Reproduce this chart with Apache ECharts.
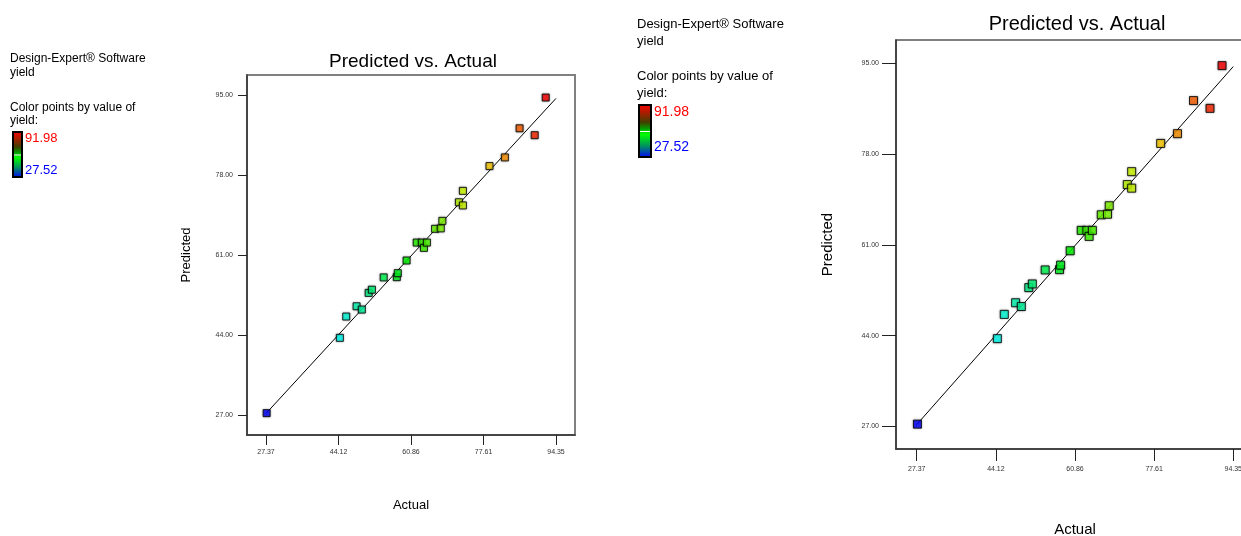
<!DOCTYPE html>
<html>
<head>
<meta charset="utf-8">
<style>
  html, body { margin: 0; padding: 0; background: #ffffff; }
  #chart { width: 1241px; height: 536px; }
</style>
<script src="https://cdn.jsdelivr.net/npm/echarts@6/dist/echarts.min.js"></script>
</head>
<body>
<div id="chart"></div>
<script>
// Run data: actual yield and model-predicted yield
const actual = [27.52, 44.43, 45.90, 48.29, 49.50, 51.08, 51.83, 54.55, 57.58, 57.81, 59.84, 62.18, 63.37,
                63.85, 64.54, 66.42, 67.74, 68.10, 71.93, 72.85, 72.85, 78.99, 82.55, 85.94, 89.43, 91.98];
const predicted = [27.45, 43.45, 47.98, 50.16, 49.46, 53.00, 53.68, 56.30, 56.36, 57.20, 59.89, 63.70, 63.70,
                   62.57, 63.70, 66.62, 66.72, 68.31, 72.27, 71.60, 74.69, 79.96, 81.80, 87.99, 86.53, 94.53];
const xTicks = [27.37, 44.12, 60.86, 77.61, 94.35];
const yTicks = [27.00, 44.00, 61.00, 78.00, 95.00];
const fitLine = [27.37, 94.35];
const yieldRange = [27.52, 91.98];

const FONT = "'Liberation Sans', Arial, sans-serif";
const NARROW = "'Liberation Sans Narrow', 'Liberation Sans', Arial, sans-serif";

const points = actual.map((a, i) => [a, predicted[i]]);
const linePts = fitLine.map(v => [v, v]);

function xAxisFor(gridIndex, tickLen, margin, nameGap, nameSize) {
  return {
    gridIndex, type: 'value', min: 22.98, max: 98.74,
    name: 'Actual', nameLocation: 'middle', nameGap,
    nameTextStyle: { fontFamily: FONT, fontSize: nameSize, color: '#000' },
    axisLine: { show: true, onZero: false, lineStyle: { color: '#333', width: 1.5 } },
    axisTick: { show: true, customValues: xTicks, length: tickLen, lineStyle: { color: '#222', width: 1 } },
    axisLabel: { customValues: xTicks, formatter: v => v.toFixed(2), margin,
                 fontFamily: NARROW, fontSize: 7, color: '#333' },
    splitLine: { show: false }
  };
}
function yAxisFor(gridIndex, tickLen, margin, nameGap, nameSize) {
  return {
    gridIndex, type: 'value', min: 22.8, max: 99.32,
    name: 'Predicted', nameLocation: 'middle', nameGap, nameRotate: 90,
    nameTextStyle: { fontFamily: FONT, fontSize: nameSize, color: '#000' },
    axisLine: { show: true, onZero: false, lineStyle: { color: '#333', width: 1.5 } },
    axisTick: { show: true, customValues: yTicks, length: tickLen, lineStyle: { color: '#222', width: 1 } },
    axisLabel: { customValues: yTicks, formatter: v => v.toFixed(2), margin,
                 fontFamily: NARROW, fontSize: 7, color: '#333' },
    splitLine: { show: false }
  };
}

// Legend text block with a colour bar for the yield scale
function legendBlock(x, tops, fs, bar) {
  const texts = ['Design-Expert® Software', 'yield', 'Color points by value of', 'yield:'];
  const els = texts.map((t, i) => ({
    type: 'text', left: x, top: tops[i],
    style: { text: t, fontFamily: FONT, fontSize: fs, fill: '#000' }
  }));
  els.push({
    type: 'rect', shape: { x: bar.x, y: bar.y, width: bar.w, height: bar.h },
    style: {
      stroke: '#000', lineWidth: 2,
      fill: new echarts.graphic.LinearGradient(0, 0, 0, 1, [
        { offset: 0, color: '#ff0000' },
        { offset: 0.18, color: '#a02000' },
        { offset: 0.34, color: '#404000' },
        { offset: 0.46, color: '#00a000' },
        { offset: 0.56, color: '#00ff00' },
        { offset: 0.78, color: '#009060' },
        { offset: 1, color: '#0000ff' }
      ])
    }
  });
  els.push({
    type: 'rect', shape: { x: bar.x + 1, y: bar.y + bar.h * 0.5, width: bar.w - 2, height: 1 },
    style: { fill: '#ffffff' }
  });
  els.push({
    type: 'text', left: bar.x + bar.w + 3, top: bar.hiTop,
    style: { text: yieldRange[1].toFixed(2), fontFamily: FONT, fontSize: fs + 1, fill: '#ff0000' }
  });
  els.push({
    type: 'text', left: bar.x + bar.w + 3, top: bar.loTop,
    style: { text: yieldRange[0].toFixed(2), fontFamily: FONT, fontSize: fs + 1, fill: '#0000ff' }
  });
  return els;
}

function scatterSeries(idx, size) {
  return {
    type: 'scatter', xAxisIndex: idx, yAxisIndex: idx, data: points,
    symbol: 'rect', symbolSize: size,
    itemStyle: { borderColor: '#000', borderWidth: 1, shadowColor: 'rgba(0,0,0,0.45)', shadowBlur: 2 },
    z: 3
  };
}
function lineSeries(idx) {
  return {
    type: 'line', xAxisIndex: idx, yAxisIndex: idx, data: linePts,
    symbol: 'none', silent: true,
    lineStyle: { color: '#000', width: 1 }, z: 2
  };
}

const chart = echarts.init(document.getElementById('chart'), null, { renderer: 'canvas' });
chart.setOption({
  backgroundColor: '#ffffff',
  animation: false,
  title: [
    { text: 'Predicted vs. Actual', left: 408, top: 47, textAlign: 'center',
      textStyle: { fontFamily: FONT, fontSize: 19, fontWeight: 'normal', color: '#000' } },
    { text: 'Predicted vs. Actual', left: 1072, top: 9, textAlign: 'center',
      textStyle: { fontFamily: FONT, fontSize: 20, fontWeight: 'normal', color: '#000' } }
  ],
  grid: [
    { left: 247, top: 75, width: 328, height: 360, show: true, borderColor: '#808080', borderWidth: 2,
      outerBoundsMode: 'none', containLabel: false },
    { left: 896, top: 40, width: 358, height: 409, show: true, borderColor: '#555', borderWidth: 1.5,
      outerBoundsMode: 'none', containLabel: false }
  ],
  xAxis: [xAxisFor(0, 10, 14, 64, 13), xAxisFor(1, 12, 17, 73, 15)],
  yAxis: [yAxisFor(0, 9, 14, 54, 13), yAxisFor(1, 14, 17, 61, 15)],
  visualMap: {
    show: false, type: 'continuous', dimension: 0, seriesIndex: [1, 3],
    min: yieldRange[0], max: yieldRange[1],
    inRange: { color: ['#0000ff', '#00ffff', '#00ff00', '#ffff00', '#ff0000'] }
  },
  series: [lineSeries(0), scatterSeries(0, 7), lineSeries(1), scatterSeries(1, 8)],
  graphic: [
    ...legendBlock(10, [53, 67, 102, 115], 12, { x: 13, y: 132, w: 9, h: 45, hiTop: 132, loTop: 164 }),
    ...legendBlock(637, [18, 35, 70, 87], 13, { x: 639, y: 105, w: 12, h: 52, hiTop: 105, loTop: 140 })
  ]
});
</script>
</body>
</html>
